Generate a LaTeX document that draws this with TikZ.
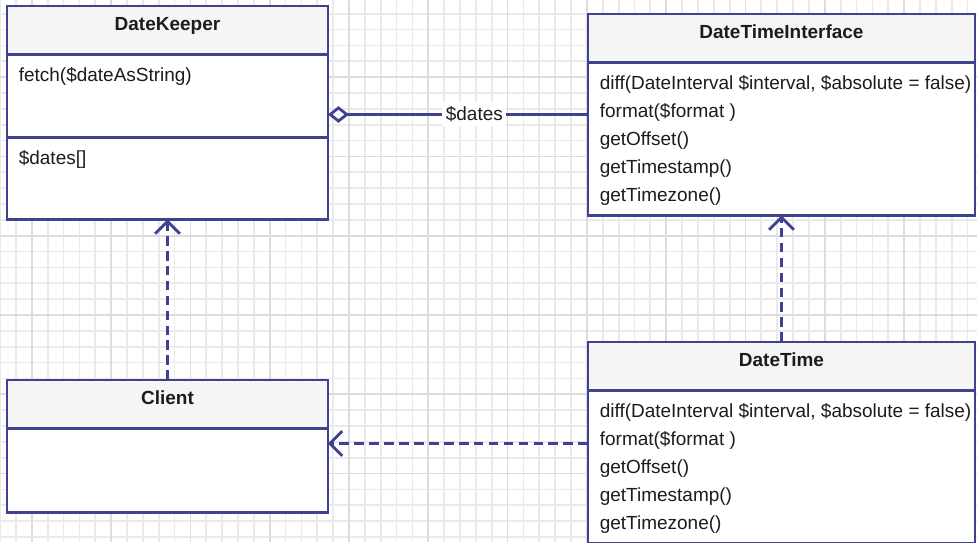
\documentclass[tikz,border=0pt]{standalone}
\usepackage{fontspec}
\setmainfont{Liberation Sans}
\usetikzlibrary{positioning,arrows.meta}
\definecolor{umlblue}{RGB}{62,66,145}
\definecolor{headgray}{RGB}{245,245,245}
\definecolor{gridminor}{RGB}{234,234,237}
\definecolor{gridmajor}{RGB}{220,220,224}
\definecolor{inkgray}{RGB}{28,28,28}

\begin{document}
\begin{tikzpicture}[x=0.02cm,y=-0.02cm,node distance=0pt,
    head/.style={draw=umlblue,line width=1.6pt,fill=headgray,minimum height=0.97cm,inner sep=0pt,outer sep=0pt,
      text height=0.28cm,text depth=0.28cm,font=\fontsize{10.8pt}{13pt}\selectfont\bfseries,text=inkgray},
    body/.style={draw=umlblue,line width=1.6pt,fill=white,inner sep=0pt,outer sep=0pt},
    member/.style={anchor=north west,align=left,inner xsep=0.23cm,inner ysep=0.26cm,
      font=\fontsize{10.8pt}{15.9pt}\selectfont,text=inkgray},
    depends/.style={umlblue,line width=1.6pt,dash pattern=on 5.5pt off 3pt,
      -{Straight Barb[length=7pt,width=14pt]}},
    aggregate/.style={umlblue,line width=1.6pt,{Diamond[fill=white,length=12pt,width=9.5pt]}-}]
    \useasboundingbox (0,0) rectangle (977,542);
    \clip (0,0) rectangle (977,542);
    \fill[white] (0,0) rectangle (977,542);
    % grid paper
    \foreach \gx in {0,...,61} \draw[gridminor,line width=1pt] (0.08+15.86*\gx,0) -- ++(0,542);
    \foreach \gy in {0,...,33} \draw[gridminor,line width=1pt] (0,13.66+15.86*\gy) -- ++(977,0);
    \foreach \gx in {0,...,12} \draw[gridmajor,line width=1pt] (31.8+79.3*\gx,0) -- ++(0,542);
    \foreach \gy in {0,...,5} \draw[gridmajor,line width=1pt] (0,77.1+79.3*\gy) -- ++(977,0);

    % classes
    \node[head,minimum width=6.42cm,anchor=north west] (keeper) at (7,6) {DateKeeper};
    \node[body,minimum width=6.42cm,minimum height=1.66cm,below=of keeper] (keeper ops) {};
    \node[body,minimum width=6.42cm,minimum height=1.64cm,below=of keeper ops] (keeper attrs) {};
    \node[member] (keeper fetch) at (keeper ops.north west) {fetch(\$dateAsString)};
    \node[member] (keeper dates) at (keeper attrs.north west) {\$dates[]};

    \node[head,minimum width=7.74cm,anchor=north west] (dti) at (588,14) {DateTimeInterface};
    \node[body,minimum width=7.74cm,minimum height=3.06cm,below=of dti] (dti ops) {};
    \node[member] (dti list) at (dti ops.north west)
      {diff(DateInterval \$interval, \$absolute = false)\\format(\$format )\\getOffset()\\getTimestamp()\\getTimezone()};

    \node[head,minimum width=7.74cm,anchor=north west] (datetime) at (588,342) {DateTime};
    \node[body,minimum width=7.74cm,minimum height=3.06cm,below=of datetime] (datetime ops) {};
    \node[member] (datetime list) at (datetime ops.north west)
      {diff(DateInterval \$interval, \$absolute = false)\\format(\$format )\\getOffset()\\getTimestamp()\\getTimezone()};

    \node[head,minimum width=6.42cm,anchor=north west] (client) at (7,380) {Client};
    \node[body,minimum width=6.42cm,minimum height=1.68cm,below=of client] (client body) {};

    % relations
    \coordinate (hold) at ([yshift=-0.37cm]keeper ops.east);
    \draw[aggregate] (hold) -- node[pos=0.563,fill=white,inner sep=2pt,text=inkgray,
      font=\fontsize{10.8pt}{13pt}\selectfont] (dates label) {\$dates} (hold -| dti ops.west);
    \draw[depends] (client.north) -- (keeper attrs.south);
    \draw[depends] (datetime.north) -- (dti ops.south);
    \coordinate (uses) at ([yshift=0.54cm]client body.east);
    \draw[depends] (uses -| datetime ops.west) -- (uses);
\end{tikzpicture}
\end{document}
